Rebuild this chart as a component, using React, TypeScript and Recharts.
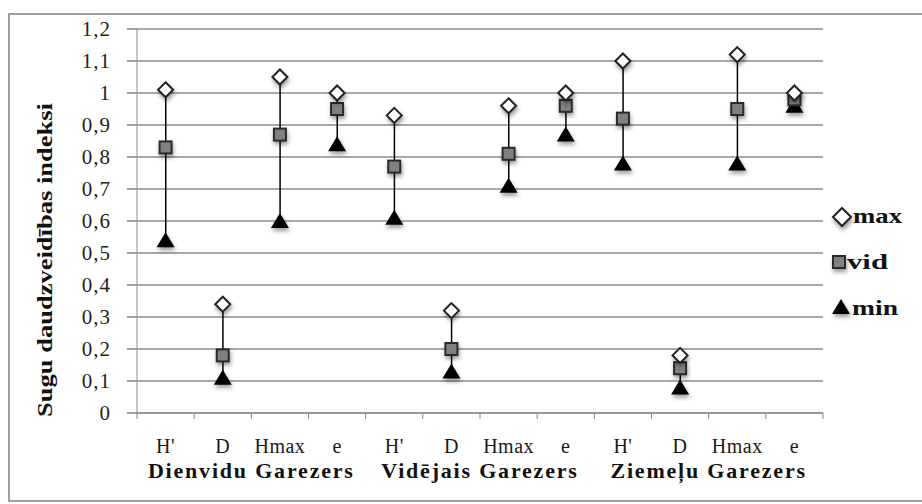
import { ComposedChart, Bar, Line, XAxis, YAxis, CartesianGrid } from 'recharts'

const categories = ["H'", 'D', 'Hmax', 'e', "H'", 'D', 'Hmax', 'e', "H'", 'D', 'Hmax', 'e']
const groups = ['Dienvidu Garezers', 'Vidējais Garezers', 'Ziemeļu Garezers']
const maxValues = [1.01, 0.34, 1.05, 1.0, 0.93, 0.32, 0.96, 1.0, 1.1, 0.18, 1.12, 1.0]
const vidValues = [0.83, 0.18, 0.87, 0.95, 0.77, 0.2, 0.81, 0.96, 0.92, 0.14, 0.95, 0.98]
const minValues = [0.54, 0.11, 0.6, 0.84, 0.61, 0.13, 0.71, 0.87, 0.78, 0.08, 0.78, 0.96]
const yTicks = [0, 0.1, 0.2, 0.3, 0.4, 0.5, 0.6, 0.7, 0.8, 0.9, 1, 1.1, 1.2]

const data = categories.map((c, i) => ({
  cat: c + '_' + i,
  label: c,
  max: maxValues[i],
  vid: vidValues[i],
  min: minValues[i],
  range: [minValues[i], maxValues[i]],
}))

const W = 922
const H = 504
const PLOT_LEFT = 137
const PLOT_RIGHT = 823
const PLOT_TOP = 29
const PLOT_BOTTOM = 413
const BAND = (PLOT_RIGHT - PLOT_LEFT) / categories.length
const FONT = 'Liberation Serif'
const shadow = { filter: 'drop-shadow(1px 3px 2px rgba(0,0,0,0.4))' }

const Diamond = ({ cx, cy, size }: any) => {
  if (cx == null) return null
  const s = size || 7.5
  return (
    <g style={shadow}>
      <polygon
        points={`${cx},${cy - s} ${cx + s},${cy} ${cx},${cy + s} ${cx - s},${cy}`}
        fill="#fff"
        stroke="#222"
        strokeWidth={2}
      />
    </g>
  )
}

const Square = ({ cx, cy }: any) =>
  cx == null ? null : (
    <g style={shadow}>
      <rect x={cx - 6} y={cy - 6} width={12} height={12} fill="#808080" stroke="#2a2a2a" strokeWidth={2} />
    </g>
  )

const Triangle = ({ cx, cy }: any) =>
  cx == null ? null : (
    <g style={shadow}>
      <polygon points={`${cx},${cy - 8} ${cx + 9},${cy + 7} ${cx - 9},${cy + 7}`} fill="#000" />
    </g>
  )

const CatTick = ({ x, payload, index }: any) => {
  const i = index as number
  return (
    <g>
      <line x1={x - BAND / 2} y1={PLOT_BOTTOM} x2={x - BAND / 2} y2={PLOT_BOTTOM + 6} stroke="#888" />
      {i === categories.length - 1 && (
        <line x1={x + BAND / 2} y1={PLOT_BOTTOM} x2={x + BAND / 2} y2={PLOT_BOTTOM + 6} stroke="#888" />
      )}
      <text
        x={x}
        y={PLOT_BOTTOM + 40}
        textAnchor="middle"
        fontFamily={FONT}
        fontSize={20}
        letterSpacing={0.5}
        fill="#1a1a1a"
      >
        {data[i] ? data[i].label : payload.value}
      </text>
      {i % 4 === 1 && (
        <text
          x={x + BAND / 2}
          y={PLOT_BOTTOM + 65}
          textAnchor="middle"
          fontFamily={FONT}
          fontSize={22}
          fontWeight="bold"
          letterSpacing={1.8}
          fill="#111"
        >
          {groups[Math.floor(i / 4)]}
        </text>
      )}
    </g>
  )
}

const legendItems = [
  { name: 'max', Icon: Diamond, cx: 18, tx: 29, len: 49 },
  { name: 'vid', Icon: Square, cx: 15, tx: 23, len: 41 },
  { name: 'min', Icon: Triangle, cx: 17, tx: 28, len: 46 },
]

export default function App() {
  return (
    <div style={{ position: 'absolute', left: 0, top: 0, width: W, height: H, background: '#fff', overflow: 'hidden' }}>
      <div
        style={{
          position: 'absolute',
          left: 8,
          top: 13,
          width: W,
          height: 489,
          border: '2px solid #a0a0a0',
          boxSizing: 'border-box',
        }}
      />
      <ComposedChart
        width={W}
        height={H}
        data={data}
        margin={{ top: PLOT_TOP, right: W - PLOT_RIGHT, bottom: 0, left: PLOT_LEFT - 60 }}
        style={{ position: 'absolute', left: 0, top: 0 }}
      >
        <CartesianGrid vertical={false} stroke="#8c8c8c" strokeWidth={1.6} />
        <XAxis
          dataKey="cat"
          interval={0}
          stroke="#888"
          tickLine={false}
          tick={<CatTick />}
          height={H - PLOT_BOTTOM}
        />
        <YAxis
          width={60}
          domain={[0, 1.2]}
          ticks={yTicks}
          interval={0}
          stroke="#888"
          tickSize={10}
          tickLine={{ stroke: '#8c8c8c', strokeWidth: 1.6 }}
          tickMargin={16}
          tickFormatter={(v: number) => String(v).replace('.', ',')}
          tick={{ fontFamily: FONT, fontSize: 21, fill: '#222', letterSpacing: 1 }}
          label={{
            content: () => (
              <text
                x={52}
                y={260}
                transform="rotate(-90 52 260)"
                textAnchor="middle"
                fontFamily={FONT}
                fontSize={21}
                fontWeight="bold"
                fill="#111"
                textLength={314}
                lengthAdjust="spacingAndGlyphs"
              >
                Sugu daudzveidības indeksi
              </text>
            ),
          }}
        />
        <Bar dataKey="range" barSize={1.5} fill="#000" isAnimationActive={false} />
        <Line dataKey="min" stroke="none" dot={<Triangle />} activeDot={false} isAnimationActive={false} />
        <Line dataKey="vid" stroke="none" dot={<Square />} activeDot={false} isAnimationActive={false} />
        <Line dataKey="max" stroke="none" dot={<Diamond />} activeDot={false} isAnimationActive={false} />
      </ComposedChart>
      <svg width={96} height={130} style={{ position: 'absolute', left: 824, top: 195 }}>
        {legendItems.map((it, i) => (
          <g key={it.name}>
            <it.Icon cx={it.cx} cy={22 + i * 45} size={9} />
            <text
              x={it.tx}
              y={28 + i * 46}
              fontFamily={FONT}
              fontSize={22}
              fontWeight="bold"
              fill="#111"
              textLength={it.len}
              lengthAdjust="spacingAndGlyphs"
            >
              {it.name}
            </text>
          </g>
        ))}
      </svg>
    </div>
  )
}
